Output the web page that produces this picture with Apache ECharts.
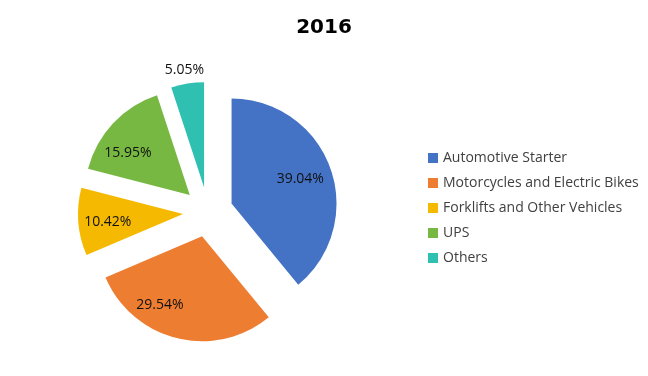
<!DOCTYPE html>
<html>
<head>
<meta charset="utf-8">
<script src="https://cdn.jsdelivr.net/npm/echarts@6/dist/echarts.min.js"></script>
<style>
  html, body { margin: 0; padding: 0; background: #fff; }
  #chart { width: 648px; height: 376px; }
</style>
</head>
<body>
<div id="chart"></div>
<script>
const titleText = '2016';
const categories = ['Automotive Starter', 'Motorcycles and Electric Bikes', 'Forklifts and Other Vehicles', 'UPS', 'Others'];
const shares = [39.04, 29.54, 10.42, 15.95, 5.05];
const colors = ['#4472C4', '#ED7D31', '#F4B900', '#77B843', '#2FC0B2'];

// small shifts so the labels sit where the original "best fit" put them
const labelNudge = [[-7, 3], [-23, -9], [5, 2], [-3, 13], [-7, -38]];

const pieData = categories.map((name, i) => ({
  name: name,
  value: shares[i],
  selected: true,
  itemStyle: { color: colors[i] }
}));

// second, invisible pie only carries the labels (puts them further out than 'inside' would)
const labelData = categories.map((name, i) => ({
  name: name,
  value: shares[i],
  selected: true
}));

const chart = echarts.init(document.getElementById('chart'));
chart.setOption({
  animation: false,
  title: {
    text: titleText,
    left: 'center',
    top: 13,
    textStyle: { fontFamily: 'DejaVu Sans', fontSize: 20, fontWeight: 'bold', color: '#000' }
  },
  legend: {
    orient: 'vertical',
    left: 423,
    top: 146,
    icon: 'rect',
    itemWidth: 10,
    itemHeight: 10,
    itemGap: 11,
    textStyle: { fontFamily: 'Open Sans', fontSize: 14, color: '#404040' },
    data: categories
  },
  series: [
    {
      name: 'share',
      type: 'pie',
      center: [208, 212],
      radius: 105,
      startAngle: 90,
      clockwise: true,
      selectedMode: 'multiple',
      selectedOffset: 25,
      silent: true,
      label: { show: false },
      labelLine: { show: false },
      data: pieData
    },
    {
      name: 'labels',
      type: 'pie',
      center: [208, 212],
      radius: [50, 105],
      startAngle: 90,
      clockwise: true,
      selectedMode: 'multiple',
      selectedOffset: 25,
      silent: true,
      avoidLabelOverlap: false,
      itemStyle: { color: 'rgba(0,0,0,0)' },
      label: {
        show: true,
        position: 'inside',
        fontFamily: 'Open Sans',
        fontSize: 14,
        color: '#111',
        formatter: p => p.value.toFixed(2) + '%'
      },
      labelLine: { show: false },
      labelLayout: function (p) {
        const n = labelNudge[p.dataIndex];
        return { dx: n[0], dy: n[1] };
      },
      data: labelData
    }
  ]
});
</script>
</body>
</html>
